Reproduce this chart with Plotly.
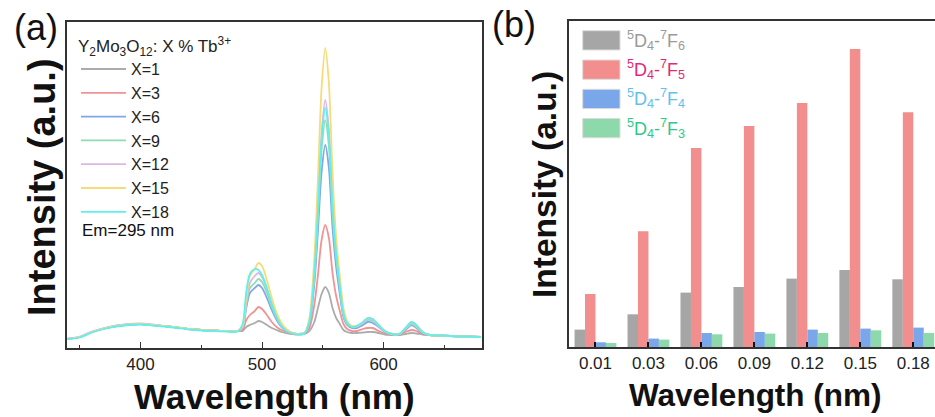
import plotly.graph_objects as go

W, H = 935, 417


def px(x):
    return x / W


def py(y):
    return 1 - y / H


# ---------------- Panel (a): emission spectra ----------------
wavelength = [340, 350, 360, 370, 380, 390, 400, 410, 420, 430, 440, 450, 460, 470, 480,
              484, 487, 490, 494, 497, 500, 504, 508, 512, 516, 520, 525, 530, 535,
              539, 543, 546, 549, 552, 555, 558, 561, 564, 567, 570,
              574, 578, 583, 587, 591, 596, 601, 607, 613, 618, 623, 627, 632, 638, 645, 655, 665, 680]

I_X1 = [9, 11, 16, 19.5, 22, 23.5, 24, 23, 22, 20.5, 19, 18, 17.5, 17, 17,
        17, 21, 23, 25, 27, 26, 23, 20, 18, 16, 15, 14, 13.5, 14,
        17, 26, 40, 54, 61, 55, 40, 30, 24, 18, 16,
        15, 15, 15.5, 16, 16, 15, 13.5, 13, 13, 14, 15, 14.5, 13.5, 13, 12.5, 12, 11.5, 11]
I_X3 = [9, 11, 16, 19.5, 22, 23.5, 24, 23, 22, 20.5, 19, 18, 17.5, 17, 17,
        18, 28, 33, 37, 41, 39, 33, 26, 21, 18, 16, 14.5, 14, 14.5,
        20, 43, 73, 108, 123, 110, 75, 52, 37, 24, 19,
        17, 17, 19, 20, 20, 17, 14.5, 13.5, 13.5, 16, 18, 17, 14, 13, 12.5, 12, 11.5, 11]
I_X6 = [9, 11, 16, 19.5, 22, 23.5, 24, 23, 22, 20.5, 19, 18, 17.5, 17, 17,
        20, 40, 55, 60, 63, 60, 50, 38, 28, 21, 17, 15, 14, 15,
        25, 64, 117, 176, 203, 180, 120, 81, 54, 31, 23,
        20, 20, 23, 26, 25, 21, 16, 14, 14, 18, 23, 20, 15, 13, 12.5, 12, 11.5, 11]
I_X9 = [9, 11, 16, 19.5, 22, 23.5, 24, 23, 22, 20.5, 19, 18, 17.5, 17, 17,
        21, 43, 60, 65, 69, 66, 55, 41, 30, 22, 18, 15, 14, 15,
        26, 71, 131, 198, 228, 202, 134, 90, 60, 33, 24,
        21, 21, 25, 28, 27, 22, 16.5, 14, 14, 19, 24, 21, 15.5, 13, 12.5, 12, 11.5, 11]
I_X12 = [9.5, 11.5, 16.5, 20, 22.5, 24, 24.5, 23.5, 22, 20.5, 19, 18, 17.5, 17, 17,
         21, 46, 65, 72, 75, 71, 59, 44, 32, 23, 18, 15, 14, 15,
         27, 76, 142, 215, 248, 219, 146, 97, 64, 35, 25,
         22, 22, 25, 29, 28, 22, 17, 14, 14, 19, 25, 22, 16, 13, 12.5, 12, 11.5, 11]
I_X15 = [9, 11, 16, 19.5, 22, 23.5, 24, 23, 22, 20.5, 19, 18, 17.5, 17, 17,
         22, 50, 72, 79, 85, 82, 68, 50, 35, 25, 19, 15, 14, 15,
         30, 90, 170, 260, 300, 265, 175, 110, 72, 40, 27,
         22, 22, 26, 30, 29, 23, 17, 14, 14, 20, 26, 23, 16, 13, 12.5, 12, 11.5, 11]
I_X18 = [9, 10.5, 15.5, 19, 21.5, 23, 23.5, 22.5, 21.5, 20, 18.5, 17.5, 17, 16.5, 16.5,
         24, 56, 74, 79, 78, 73, 60, 44, 31, 22, 17, 14.5, 13.5, 14.5,
         27, 74, 137, 208, 240, 212, 141, 94, 62, 35, 25,
         21, 22, 26, 30, 29, 23, 17, 14, 14, 20, 26, 23, 16, 13, 12.5, 12, 11.5, 11]

series_names = ["X=1", "X=3", "X=6", "X=9", "X=12", "X=15", "X=18"]
series_values = [I_X1, I_X3, I_X6, I_X9, I_X12, I_X15, I_X18]
series_colors = ["#ababab", "#f29393", "#7fa8e6", "#90dcb2", "#d9b8e8", "#f5dc78", "#5ff0ee"]

# ---------------- Panel (b): integrated intensities ----------------
concentration = ["0.01", "0.03", "0.06", "0.09", "0.12", "0.15", "0.18"]
F6 = [17.4, 32.7, 54.4, 60, 68.4, 77, 67.7]
F5 = [53, 115.7, 199, 221, 244, 298, 234.7]
F4 = [4.7, 8.4, 14, 15, 17.4, 18.4, 19.4]
F3 = [4, 7.4, 12.7, 13.4, 14, 16.7, 14]

bar_names = ["<sup>5</sup>D<sub>4</sub>-<sup>7</sup>F<sub>6</sub>",
             "<sup>5</sup>D<sub>4</sub>-<sup>7</sup>F<sub>5</sub>",
             "<sup>5</sup>D<sub>4</sub>-<sup>7</sup>F<sub>4</sub>",
             "<sup>5</sup>D<sub>4</sub>-<sup>7</sup>F<sub>3</sub>"]
bar_values = [F6, F5, F4, F3]
bar_colors = ["#a6a6a6", "#f28e8e", "#7aa6ea", "#8ed9ab"]
bar_text_colors = ["#9a9a9a", "#e2287c", "#62c0ee", "#2cc88c"]

FONT = "Liberation Sans, Arial, sans-serif"

fig = go.Figure()

for name, vals, col in zip(series_names, series_values, series_colors):
    fig.add_trace(go.Scatter(x=wavelength, y=vals, name=name, mode="lines",
                             line=dict(color=col, width=1.8, shape="spline", smoothing=0.8),
                             xaxis="x", yaxis="y", legend="legend"))

for name, vals, col in zip(bar_names, bar_values, bar_colors):
    fig.add_trace(go.Bar(x=concentration, y=vals, name=name, marker=dict(color=col, line=dict(width=0)),
                         xaxis="x2", yaxis="y2", showlegend=False))

axis_line = dict(showline=True, linecolor="#333333", linewidth=1.5, showgrid=False, zeroline=False)

fig.update_layout(
    width=W, height=H,
    margin=dict(l=0, r=0, t=0, b=0),
    paper_bgcolor="white", plot_bgcolor="white",
    font=dict(family=FONT, color="#222222"),
    barmode="group", bargap=0.21, bargroupgap=0,
    xaxis=dict(domain=[px(67), px(482)], range=[339.5, 681], anchor="y", mirror=True,
               ticks="inside", ticklen=6, tickwidth=1, tickcolor="#333333",
               tickvals=[400, 500, 600], tickfont=dict(size=17, family=FONT, color="#222222"),
               minor=dict(tickvals=[350, 450, 550, 650], ticks="inside", ticklen=3, tickcolor="#333333"),
               **axis_line),
    yaxis=dict(domain=[py(348), py(22)], range=[0, 326], anchor="x", mirror=True,
               showticklabels=False, ticks="", **axis_line),
    xaxis2=dict(domain=[px(569), 1.0], range=[-0.5, 6.41], type="category", anchor="y2", mirror=True,
                ticks="inside", ticklen=5, tickwidth=2, tickcolor="#111111",
                tickfont=dict(size=17, family=FONT, color="#222222"), **axis_line),
    yaxis2=dict(domain=[py(347), py(20.5)], range=[0, 326.5], anchor="x2", mirror=False,
                showticklabels=False, ticks="", **axis_line),
    legend=dict(x=px(76), y=py(30), xanchor="left", yanchor="top",
                bgcolor="rgba(0,0,0,0)", borderwidth=0, itemwidth=45, tracegroupgap=0,
                font=dict(size=16, family=FONT, color="#222222"),
                title=dict(text="Y<sub>2</sub>Mo<sub>3</sub>O<sub>12</sub>: X % Tb<sup>3+</sup>",
                           font=dict(size=17, family=FONT, color="#222222"))),
)

annotations = [
    dict(text="<b>Wavelength (nm)</b>", x=px(274), y=py(396), font=dict(size=35)),
    dict(text="<b>Intensity (a.u.)</b>", x=px(42), y=py(187), textangle=-90, font=dict(size=38)),
    dict(text="<b>Wavelength (nm)</b>", x=px(755), y=py(395), font=dict(size=31.5)),
    dict(text="<b>Intensity (a.u.)</b>", x=px(544), y=py(185), textangle=-90, font=dict(size=33.5)),
    dict(text="(a)", x=px(36), y=py(27), font=dict(size=36)),
    dict(text="(b)", x=px(514), y=py(25), font=dict(size=36)),
    dict(text="Em=295 nm", x=px(80), y=py(230), xanchor="left", font=dict(size=17)),
]
for a in annotations:
    a.setdefault("xanchor", "center")
    a.update(xref="paper", yref="paper", yanchor="middle", showarrow=False)
    a["font"] = dict(family=FONT, color="#111111", **a["font"])
    fig.add_annotation(**a)

# legend for panel (b)
rect_tops = [30.7, 60, 89.3, 118.5]
for top, col, name, tcol in zip(rect_tops, bar_colors, bar_names, bar_text_colors):
    fig.add_shape(type="rect", xref="paper", yref="paper",
                  x0=px(582.7), x1=px(620), y0=py(top + 19.3), y1=py(top),
                  fillcolor=col, line=dict(color="#dcdcdc", width=1))
    fig.add_annotation(text=name, xref="paper", yref="paper", x=px(625), y=py(top + 9.7),
                       xanchor="left", yanchor="middle", showarrow=False,
                       font=dict(family=FONT, size=18, color=tcol))

fig.write_html("out.html",
               config={"displayModeBar": False},
               post_script="document.body.style.margin='0';document.body.style.overflow='hidden';")
